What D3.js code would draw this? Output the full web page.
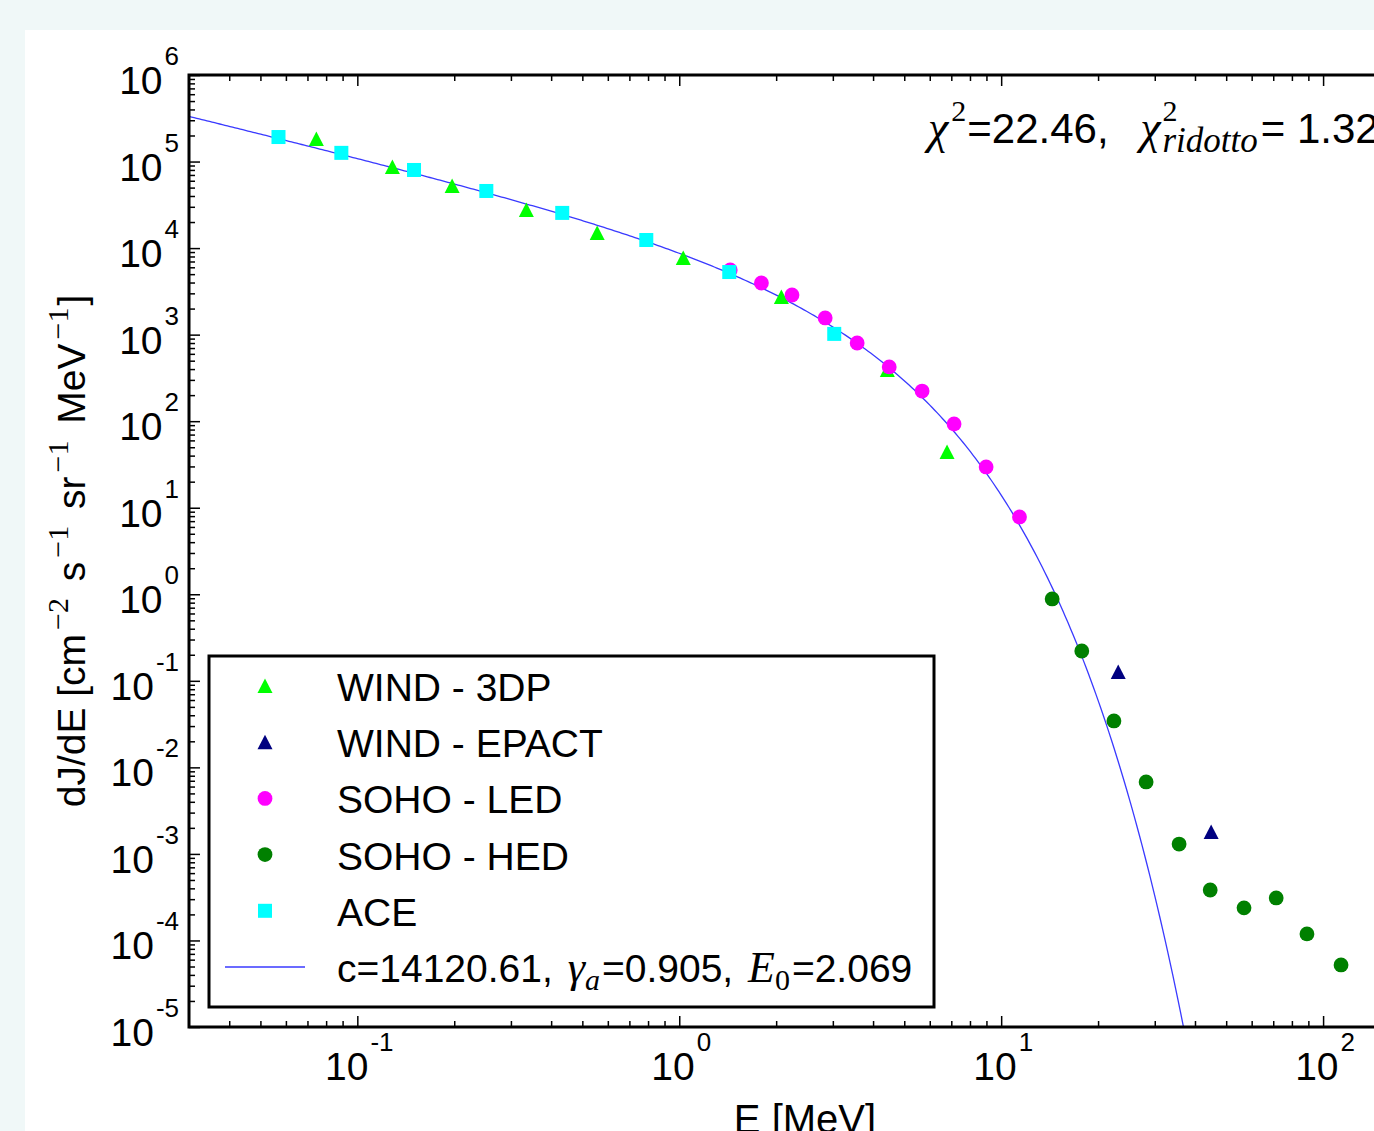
<!DOCTYPE html>
<html>
<head>
<meta charset="utf-8">
<script src="https://cdn.jsdelivr.net/npm/d3@7"></script>
<style>
body { margin: 0; background: #f0f8f8; }
svg { display: block; }
text { white-space: pre; }
</style>
</head>
<body>
<script>
// values (E in MeV, dJ/dE in cm^-2 s^-1 sr^-1 MeV^-1)
var wind3dpE = [0.0746, 0.1285, 0.197, 0.335, 0.556, 1.029, 2.076, 4.43, 6.79];
var wind3dpJ = [1.82e5, 8.65e4, 5.21e4, 2.75e4, 1.49e4, 7690, 2720, 391, 44.1];

var windEpactE = [23.1, 44.9];
var windEpactJ = [0.1265, 1.79e-3];

var sohoLedE = [1.44, 1.80, 2.24, 2.84, 3.57, 4.49, 5.68, 7.14, 8.98, 11.4];
var sohoLedJ = [5580, 3950, 2870, 1560, 800, 423, 223, 92.8, 29.6, 7.82];

var sohoHedE = [14.4, 17.8, 22.4, 28.2, 35.7, 44.6, 56.8, 71.5, 89.1, 113.7];
var sohoHedJ = [0.883, 0.221, 0.0344, 6.78e-3, 1.30e-3, 3.83e-4, 2.38e-4, 3.10e-4, 1.19e-4, 5.21e-5];

var aceE = [0.0569, 0.0892, 0.150, 0.2516, 0.433, 0.790, 1.43, 3.03];
var aceJ = [1.92e5, 1.26e5, 7.99e4, 4.57e4, 2.55e4, 1.24e4, 5290, 1020];

// fit parameters printed in the legend
var fitC = 14120.61, fitGamma = 0.905, fitE0 = 2.069;

var xDecades = [-1, 0, 1, 2];
var yDecades = [-5, -4, -3, -2, -1, 0, 1, 2, 3, 4, 5, 6];

var seriesNames = ["WIND - 3DP", "WIND - EPACT", "SOHO - LED", "SOHO - HED", "ACE"];

window.onload = draw;

function draw(){

    var width = 1374, height = 1131;
    var left = 189, top = 75, bottom = 1027, right = 1420;

    var sans = "'Liberation Sans', Arial, Helvetica, sans-serif";
    var serif = "'Liberation Serif', 'DejaVu Serif', serif";

    var svg = d3.select("body").append("svg")
        .attr("width", width)
        .attr("height", height);

    svg.append("rect").attr("width", width).attr("height", height).attr("fill", "#f0f8f8");
    svg.append("rect").attr("x", 25).attr("y", 30)
        .attr("width", width - 25).attr("height", height - 30).attr("fill", "#fff");

    var x = d3.scaleLog().domain([0.03, 200]).range([left, right]);
    var y = d3.scaleLog().domain([1e-5, 1e6]).range([bottom, top]);

    //minor tick values
    var xMinor = [], yMinor = [];
    d3.range(-2, 3).forEach(function(d){
        for (var k = 2; k < 10; k++) {
            var v = k * Math.pow(10, d);
            if (v > 0.03 && v < 200) xMinor.push(v);
        }
    });
    d3.range(-5, 6).forEach(function(d){
        for (var k = 2; k < 10; k++) yMinor.push(k * Math.pow(10, d));
    });
    var xMajor = xDecades.map(function(d){ return Math.pow(10, d); });
    var yMajor = yDecades.map(function(d){ return Math.pow(10, d); });

    function styleAxis(g){
        g.select(".domain").remove();
        g.selectAll(".tick line").attr("stroke", "#000").attr("stroke-width", 1.5);
        g.selectAll("text").remove();
    }

    //ticks point inward on all sides
    [[xMajor, 11], [xMinor, 6]].forEach(function(t){
        svg.append("g").attr("transform", "translate(0," + bottom + ")")
            .call(d3.axisBottom(x).tickValues(t[0]).tickSize(-t[1]).tickSizeOuter(0))
            .call(styleAxis);
        svg.append("g").attr("transform", "translate(0," + top + ")")
            .call(d3.axisTop(x).tickValues(t[0]).tickSize(-t[1]).tickSizeOuter(0))
            .call(styleAxis);
    });
    [[yMajor, 11], [yMinor, 6]].forEach(function(t){
        svg.append("g").attr("transform", "translate(" + left + ",0)")
            .call(d3.axisLeft(y).tickValues(t[0]).tickSize(-t[1]).tickSizeOuter(0))
            .call(styleAxis);
    });

    //clip for the fit curve
    svg.append("clipPath").attr("id", "plotclip")
        .append("rect").attr("x", left).attr("y", top)
        .attr("width", right - left).attr("height", bottom - top);

    var curveE = d3.range(0, 400).map(function(i){
        return 0.03 * Math.pow(45 / 0.03, i / 399);
    });
    var line = d3.line()
        .x(function(e){ return x(e); })
        .y(function(e){ return y(fitC * Math.pow(e, -fitGamma) * Math.exp(-e / fitE0)); });

    svg.append("path")
        .attr("clip-path", "url(#plotclip)")
        .attr("d", line(curveE))
        .attr("fill", "none")
        .attr("stroke", "#3a3aff")
        .attr("stroke-width", 1.3);

    //marker shapes
    function marker(g, kind, color){
        if (kind === "tri") {
            g.append("path").attr("d", "M0,-7.5L7.5,7L-7.5,7Z").attr("fill", color);
        } else if (kind === "circ") {
            g.append("circle").attr("r", 7.4).attr("fill", color);
        } else {
            g.append("rect").attr("x", -7).attr("y", -7).attr("width", 14).attr("height", 14).attr("fill", color);
        }
    }

    var series = [
        {e: wind3dpE, j: wind3dpJ, kind: "tri", color: "#00ff00"},
        {e: windEpactE, j: windEpactJ, kind: "tri", color: "#000080"},
        {e: sohoLedE, j: sohoLedJ, kind: "circ", color: "#ff00ff"},
        {e: sohoHedE, j: sohoHedJ, kind: "circ", color: "#008000"},
        {e: aceE, j: aceJ, kind: "sq", color: "#00ffff"}
    ];

    series.forEach(function(s){
        s.e.forEach(function(e, i){
            var g = svg.append("g").attr("transform", "translate(" + x(e) + "," + y(s.j[i]) + ")");
            marker(g, s.kind, s.color);
        });
    });

    //frame
    svg.append("path")
        .attr("d", "M" + right + "," + top + "H" + left + "V" + bottom + "H" + right)
        .attr("fill", "none").attr("stroke", "#000").attr("stroke-width", 3);

    //tick labels 10^n
    function powLabel(px, py, n, anchor){
        var t = svg.append("text")
            .attr("x", px).attr("y", py)
            .attr("text-anchor", anchor)
            .style("font-family", sans)
            .style("font-size", "39px");
        t.append("tspan").text("10");
        t.append("tspan").attr("dx", 2).attr("dy", -29).style("font-size", "26px").text(n);
    }
    xDecades.forEach(function(d){ powLabel(x(Math.pow(10, d)) + 2, bottom + 53, d, "middle"); });
    yDecades.forEach(function(d){ powLabel(179, y(Math.pow(10, d)) + 19, d, "end"); });

    //sequential text pieces (for the math bits)
    function rich(g, x0, y0, parts){
        var cx = x0, held = 0;
        parts.forEach(function(p){
            var t = g.append("text")
                .attr("x", cx).attr("y", y0 + (p.dy || 0))
                .attr("xml:space", "preserve")
                .style("font-family", p.serif ? serif : sans)
                .style("font-size", p.size + "px")
                .style("font-style", p.italic ? "italic" : "normal")
                .text(p.t);
            var w = t.node().getComputedTextLength() + (p.gap || 0);
            if (p.stack) {
                held = w;
            } else {
                cx += Math.max(w, held);
                held = 0;
            }
        });
        return cx - x0;
    }

    //fit quality text
    rich(svg, 928, 143, [
        {t: "\u03c7", serif: true, italic: true, size: 46, gap: 3},
        {t: "2", serif: true, size: 30, dy: -22, gap: 1},
        {t: "=22.46, ", size: 42, gap: 20},
        {t: "\u03c7", serif: true, italic: true, size: 46, gap: 2},
        {t: "2", serif: true, size: 30, dy: -22, stack: true},
        {t: "ridotto", serif: true, italic: true, size: 35, dy: 9, gap: 3},
        {t: "= 1.32", size: 42}
    ]);

    //y axis label
    var yl = svg.append("g");
    var ylen = rich(yl, 0, 0, [
        {t: "dJ/dE [cm", size: 39, gap: 4},
        {t: "\u22122", serif: true, size: 30, dy: -17, gap: 6},
        {t: " s", size: 39, gap: 4},
        {t: "\u22121", serif: true, size: 30, dy: -17, gap: 6},
        {t: " sr", size: 39, gap: 4},
        {t: "\u22121", serif: true, size: 30, dy: -17, gap: 6},
        {t: " MeV", size: 39, gap: 4},
        {t: "\u22121", serif: true, size: 30, dy: -17, gap: 2},
        {t: "]", size: 39}
    ]);
    yl.attr("transform", "translate(85," + ((top + bottom) / 2 + ylen / 2) + ") rotate(-90)");

    //x axis label
    svg.append("text")
        .attr("x", 805).attr("y", 1133)
        .attr("text-anchor", "middle")
        .style("font-family", sans)
        .style("font-size", "40px")
        .text("E [MeV]");

    //legend
    var lg = svg.append("g");
    lg.append("rect").attr("x", 209).attr("y", 656).attr("width", 725).attr("height", 351)
        .attr("fill", "#fff").attr("stroke", "#000").attr("stroke-width", 3);

    var rowY = d3.scalePoint().domain(d3.range(6)).range([686, 967]);
    series.forEach(function(s, i){
        var g = lg.append("g").attr("transform", "translate(265," + rowY(i) + ")");
        marker(g, s.kind, s.color);
        lg.append("text").attr("x", 337).attr("y", rowY(i) + 15)
            .style("font-family", sans).style("font-size", "39px")
            .text(seriesNames[i]);
    });
    lg.append("line").attr("x1", 225).attr("x2", 305).attr("y1", rowY(5)).attr("y2", rowY(5))
        .attr("stroke", "#3a3aff").attr("stroke-width", 1.3);
    rich(lg, 337, rowY(5) + 15, [
        {t: "c=14120.61, ", size: 39, gap: 4},
        {t: "\u03b3", serif: true, italic: true, size: 44},
        {t: "a", serif: true, italic: true, size: 30, dy: 8, gap: 2},
        {t: "=0.905, ", size: 39, gap: 4},
        {t: "E", serif: true, italic: true, size: 44},
        {t: "0", serif: true, size: 30, dy: 8, gap: 2},
        {t: "=2.069", size: 39}
    ]);
}
</script>
</body>
</html>
